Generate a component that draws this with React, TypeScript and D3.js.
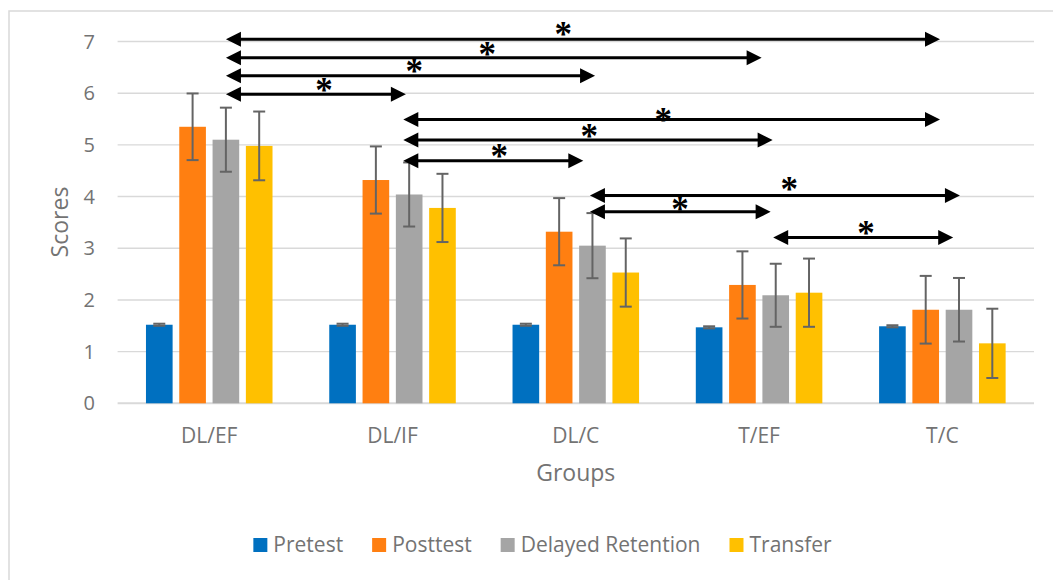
import React, { useEffect, useRef } from "react";
import * as d3 from "d3";

const categories = ["DL/EF", "DL/IF", "DL/C", "T/EF", "T/C"];
const seriesNames = ["Pretest", "Posttest", "Delayed Retention", "Transfer"];
const seriesColors = ["#0070C0", "#FF7F11", "#A5A5A5", "#FFC000"];

const pretest = [1.52, 1.52, 1.52, 1.47, 1.49];
const pretestErr = [0.02, 0.02, 0.02, 0.02, 0.02];
const posttest = [5.35, 4.32, 3.32, 2.29, 1.81];
const posttestErr = [0.645, 0.65, 0.65, 0.65, 0.655];
const delayed = [5.1, 4.04, 3.05, 2.09, 1.81];
const delayedErr = [0.62, 0.62, 0.63, 0.61, 0.615];
const transfer = [4.98, 3.78, 2.53, 2.14, 1.16];
const transferErr = [0.665, 0.66, 0.66, 0.66, 0.67];

const yTicks = [0, 1, 2, 3, 4, 5, 6, 7];

// significance arrows (x in group-position units, y in score units)
const arrowFrom = [0.091, 0.091, 0.091, 0.091, 1.059, 1.059, 1.059, 2.077, 2.077, 3.077];
const arrowTo = [3.987, 3.014, 2.105, 1.073, 3.987, 3.074, 2.041, 4.096, 3.063, 4.059];
const arrowLevel = [7.043, 6.687, 6.338, 5.978, 5.492, 5.092, 4.692, 4.022, 3.704, 3.209];
const starPos = [1.932, 1.517, 1.119, 0.626, 2.477, 2.073, 1.582, 3.164, 2.568, 3.583];
const starLevel = [7.256, 6.869, 6.532, 6.177, 5.596, 5.287, 4.899, 4.254, 3.867, 3.402];

const FONT = "'Open Sans', 'Liberation Sans', sans-serif";
const TEXT = "#737373";

export default function App() {
  const ref = useRef<SVGSVGElement>(null);

  useEffect(() => {
    const svg = d3.select(ref.current);
    svg.selectAll("*").remove();

    const left = 117.6;
    const right = 1034;
    const y = d3.scaleLinear().domain([0, 7]).range([403.3, 41.5]);
    const x0 = d3.scaleBand<string>().domain(categories).range([left, right]).paddingInner(0).paddingOuter(0);
    const bw = x0.bandwidth();
    const x1 = d3
      .scaleBand<string>()
      .domain(seriesNames)
      .range([bw / 2 - 66.6, bw / 2 + 66.6])
      .paddingInner(0.2)
      .paddingOuter(0.1);
    const xa = d3.scaleLinear().domain([-0.5, 4.5]).range([left, right]);

    // frame
    svg
      .append("rect")
      .attr("x", 9)
      .attr("y", 11)
      .attr("width", 1200)
      .attr("height", 700)
      .attr("fill", "#fff")
      .attr("stroke", "#d9d9d9")
      .attr("stroke-width", 1.5);

    // gridlines
    svg
      .append("g")
      .selectAll("line")
      .data(yTicks)
      .join("line")
      .attr("x1", left)
      .attr("x2", right)
      .attr("y1", (d) => y(d))
      .attr("y2", (d) => y(d))
      .attr("stroke", "#d9d9d9")
      .attr("stroke-width", (d) => (d === 0 ? 2 : 1.4));

    // tick labels
    svg
      .append("g")
      .selectAll("text")
      .data(yTicks)
      .join("text")
      .attr("x", 95)
      .attr("y", (d) => y(d) + 7)
      .attr("text-anchor", "end")
      .attr("font-family", FONT)
      .attr("font-size", 20)
      .attr("fill", TEXT)
      .text((d) => String(d));

    // category labels
    svg
      .append("g")
      .selectAll("text")
      .data(categories)
      .join("text")
      .attr("x", (d) => (x0(d) as number) + bw / 2)
      .attr("y", 442.7)
      .attr("text-anchor", "middle")
      .attr("font-family", FONT)
      .attr("font-size", 21)
      .attr("fill", TEXT)
      .text((d) => d);

    // axis titles
    svg
      .append("text")
      .attr("x", (left + right) / 2)
      .attr("y", 481)
      .attr("text-anchor", "middle")
      .attr("font-family", FONT)
      .attr("font-size", 23)
      .attr("fill", TEXT)
      .text("Groups");
    svg
      .append("text")
      .attr("transform", "translate(68,222) rotate(-90)")
      .attr("text-anchor", "middle")
      .attr("font-family", FONT)
      .attr("font-size", 23)
      .attr("fill", TEXT)
      .text("Scores");

    // bars
    const values = [pretest, posttest, delayed, transfer];
    const errs = [pretestErr, posttestErr, delayedErr, transferErr];
    const rows = categories.flatMap((c, ci) =>
      seriesNames.map((s, si) => ({ c, s, si, v: values[si][ci], e: errs[si][ci] }))
    );
    const gBars = svg.append("g");
    gBars
      .selectAll("rect")
      .data(rows)
      .join("rect")
      .attr("x", (d) => (x0(d.c) as number) + (x1(d.s) as number))
      .attr("y", (d) => y(d.v))
      .attr("width", x1.bandwidth())
      .attr("height", (d) => y(0) - y(d.v))
      .attr("fill", (d) => seriesColors[d.si]);

    // error bars
    const gErr = svg.append("g").attr("stroke", "#646464").attr("stroke-width", 2);
    rows.forEach((d) => {
      const cx = (x0(d.c) as number) + (x1(d.s) as number) + x1.bandwidth() / 2;
      const yt = y(d.v + d.e);
      const yb = y(d.v - d.e);
      gErr.append("line").attr("x1", cx).attr("x2", cx).attr("y1", yt).attr("y2", yb);
      gErr.append("line").attr("x1", cx - 6).attr("x2", cx + 6).attr("y1", yt).attr("y2", yt);
      gErr.append("line").attr("x1", cx - 6).attr("x2", cx + 6).attr("y1", yb).attr("y2", yb);
    });

    // significance arrows
    const gA = svg.append("g");
    const HL = 15;
    const HH = 7.5;
    arrowFrom.forEach((f, i) => {
      const xl = xa(f);
      const xr = xa(arrowTo[i]);
      const yy = y(arrowLevel[i]);
      gA.append("line")
        .attr("x1", xl + HL - 1)
        .attr("x2", xr - HL + 1)
        .attr("y1", yy)
        .attr("y2", yy)
        .attr("stroke", "#000")
        .attr("stroke-width", 3);
      gA.append("path")
        .attr("d", `M${xl},${yy} L${xl + HL},${yy - HH} L${xl + HL},${yy + HH} Z`)
        .attr("fill", "#000");
      gA.append("path")
        .attr("d", `M${xr},${yy} L${xr - HL},${yy - HH} L${xr - HL},${yy + HH} Z`)
        .attr("fill", "#000");
      const fs = 35;
      gA.append("text")
        .attr("x", xa(starPos[i]))
        .attr("y", y(starLevel[i]) + 0.5 * fs)
        .attr("text-anchor", "middle")
        .attr("font-family", "'Liberation Serif', serif")
        .attr("font-weight", "bold")
        .attr("font-size", fs)
        .attr("fill", "#000")
        .text("*");
    });

    // legend
    const gL = svg.append("g");
    const items = seriesNames.map((name, i) => {
      const g = gL.append("g");
      g.append("rect").attr("x", 0).attr("y", 538).attr("width", 14).attr("height", 14).attr("fill", seriesColors[i]);
      const t = g
        .append("text")
        .attr("x", 20)
        .attr("y", 551.7)
        .attr("font-family", FONT)
        .attr("font-size", 21)
        .attr("fill", TEXT)
        .text(name);
      const w = (t.node() as SVGTextElement).getComputedTextLength();
      return { g, w: 20 + w };
    });
    const gap = 29;
    const total = items.reduce((a, b) => a + b.w, 0) + gap * (items.length - 1);
    let cx = 542.5 - total / 2;
    items.forEach((it) => {
      it.g.attr("transform", `translate(${cx},0)`);
      cx += it.w + gap;
    });
  }, []);

  return (
    <svg
      ref={ref}
      width={1053}
      height={580}
      style={{ position: "absolute", left: 0, top: 0, background: "#fff" }}
    />
  );
}
